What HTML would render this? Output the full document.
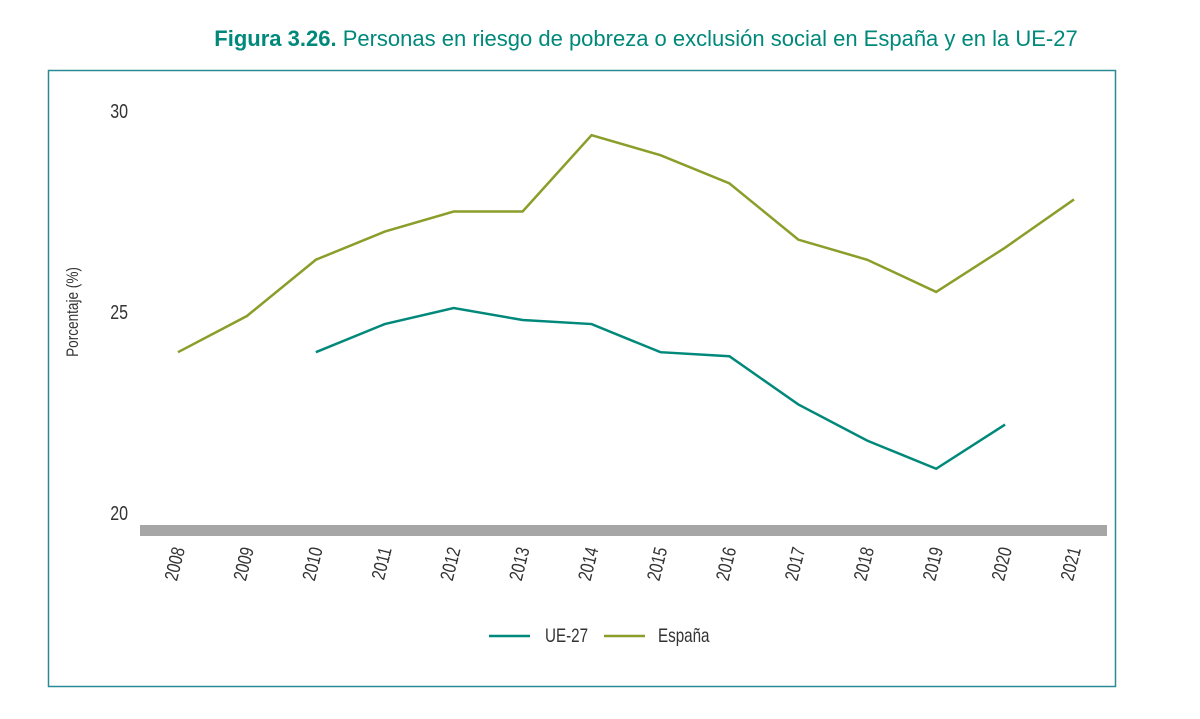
<!DOCTYPE html>
<html><head><meta charset="utf-8"><style>
body{margin:0;background:#fff;width:1200px;height:714px;overflow:hidden;font-family:"Liberation Sans",sans-serif}
</style></head><body>
<svg width="1200" height="714">
<text x="646" y="46" text-anchor="middle" font-size="22" fill="#00897b"><tspan font-weight="bold">Figura 3.26.</tspan> Personas en riesgo de pobreza o exclusión social en España y en la UE-27</text>
<rect x="48.5" y="70.5" width="1067" height="616" fill="none" stroke="#2a8a96" stroke-width="1.5"/>
<rect x="140" y="525" width="967" height="11" fill="#a6a6a6"/>
<g id="yt"></g><g id="xt"></g><g id="ln"></g>
<text transform="translate(78,312) rotate(-90) scale(0.8,1)" text-anchor="middle" font-size="17" fill="#333">Porcentaje (%)</text>
<line x1="489" y1="636" x2="530" y2="636" stroke="#00897b" stroke-width="2.5"/>
<text transform="translate(545,642) scale(0.8,1)" font-size="19" fill="#333">UE-27</text>
<line x1="604" y1="636" x2="645" y2="636" stroke="#8a9e2a" stroke-width="2.5"/>
<text transform="translate(658,642) scale(0.8,1)" font-size="19" fill="#333">España</text>
</svg>
<script>
const years=[2008,2009,2010,2011,2012,2013,2014,2015,2016,2017,2018,2019,2020,2021];
const espana=[24.0,24.9,26.3,27.0,27.5,27.5,29.4,28.9,28.2,26.8,26.3,25.5,26.6,27.8];
const ue27=[null,null,24.0,24.7,25.1,24.8,24.7,24.0,23.9,22.7,21.8,21.1,22.2,null];
const yTicks=[20,25,30];
const NS="http://www.w3.org/2000/svg";
const x=i=>178+i*(1074-178)/13;
const y=v=>513-(v-20)*40.2;
const yt=document.getElementById('yt'),xt=document.getElementById('xt'),ln=document.getElementById('ln');
yTicks.forEach(t=>{const e=document.createElementNS(NS,'text');


e.setAttribute('transform',`translate(128,${y(t)+7}) scale(0.8,1)`);e.setAttribute('text-anchor','end');e.setAttribute('font-size','20');e.setAttribute('fill','#333');e.textContent=t;yt.appendChild(e);});
years.forEach((yr,i)=>{const e=document.createElementNS(NS,'text');


e.setAttribute('transform',`translate(${x(i)+7},549) rotate(-76) scale(0.8,1)`);e.setAttribute('text-anchor','end');e.setAttribute('font-size','19');e.setAttribute('fill','#333');e.textContent=yr;xt.appendChild(e);});
function line(data,color,name){let d='';data.forEach((v,i)=>{if(v==null)return;d+=(d?'L':'M')+x(i)+','+y(v);});
const p=document.createElementNS(NS,'path');


p.setAttribute('d',d);p.setAttribute('fill','none');p.setAttribute('stroke',color);p.setAttribute('stroke-width','2.5');ln.appendChild(p);}
line(espana,'#8a9e2a','espana-line');
line(ue27,'#00897b','ue27-line');
</script>
</body></html>
